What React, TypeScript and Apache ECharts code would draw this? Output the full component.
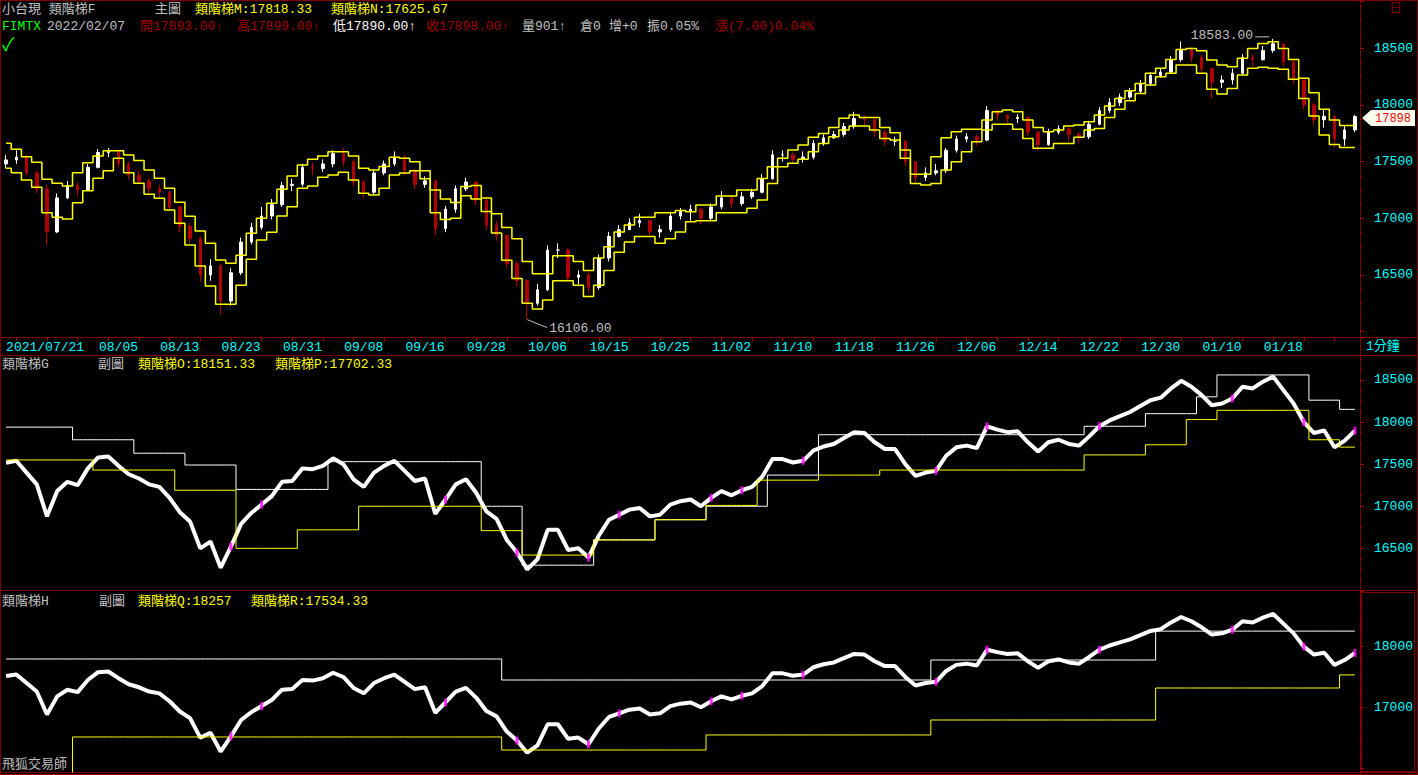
import React, { useEffect, useRef } from 'react';
import * as echarts from 'echarts';

// ---------- data ----------
const dates = [
  '2021/07/21', '07/22', '07/23', '07/26', '07/27', '07/28', '07/29', '07/30',
  '08/02', '08/03', '08/04', '08/05', '08/06', '08/09', '08/10', '08/11', '08/12', '08/13', '08/16', '08/17', '08/18', '08/19', '08/20', '08/23', '08/24', '08/25', '08/26', '08/27', '08/30', '08/31',
  '09/01', '09/02', '09/03', '09/06', '09/07', '09/08', '09/09', '09/10', '09/13', '09/14', '09/15', '09/16', '09/17', '09/22', '09/23', '09/24', '09/27', '09/28', '09/29', '09/30',
  '10/01', '10/04', '10/05', '10/06', '10/07', '10/08', '10/12', '10/13', '10/14', '10/15', '10/18', '10/19', '10/20', '10/21', '10/22', '10/25', '10/26', '10/27', '10/28', '10/29',
  '11/01', '11/02', '11/03', '11/04', '11/05', '11/08', '11/09', '11/10', '11/11', '11/12', '11/15', '11/16', '11/17', '11/18', '11/19', '11/22', '11/23', '11/24', '11/25', '11/26', '11/29', '11/30',
  '12/01', '12/02', '12/03', '12/06', '12/07', '12/08', '12/09', '12/10', '12/13', '12/14', '12/15', '12/16', '12/17', '12/20', '12/21', '12/22', '12/23', '12/24', '12/27', '12/28', '12/29', '12/30',
  '01/03', '01/04', '01/05', '01/06', '01/07', '01/10', '01/11', '01/12', '01/13', '01/14', '01/17', '01/18', '01/19', '01/20', '01/21', '01/24', '01/25', '01/26',
  '02/07',
];

const firstOpen = 17480;
const closes = [
  17515, 17540, 17400, 17260, 16880, 17180, 17290, 17250, 17450, 17580,
  17590, 17480, 17380, 17330, 17260, 17230, 17100, 16930, 16820, 16500,
  16580, 16270, 16520, 16790, 16920, 17020, 17120, 17290, 17300, 17450,
  17440, 17480, 17570, 17500, 17320, 17230, 17400, 17480, 17540, 17420,
  17300, 17330, 16910, 17080, 17260, 17320, 17160, 16940, 16850, 16600,
  16450, 16250, 16370, 16720, 16720, 16480, 16500, 16390, 16650, 16840,
  16900, 16960, 16980, 16880, 16900, 17020, 17060, 17080, 17000, 17100,
  17180, 17130, 17190, 17230, 17350, 17560, 17560, 17520, 17540, 17660,
  17710, 17740, 17810, 17880, 17870, 17760, 17680, 17680, 17500, 17360,
  17400, 17420, 17600, 17700, 17720, 17690, 17950, 17910, 17880, 17890,
  17760, 17650, 17760, 17790, 17740, 17720, 17830, 17950, 18020, 18070,
  18120, 18190, 18260, 18290, 18400, 18490, 18420, 18320, 18200, 18220,
  18280, 18420, 18400, 18480, 18540, 18380, 18220, 18000, 17870, 17900,
  17700, 17780, 17898,
];
const highs = [
  17560, 17600, 17560, 17420, 17300, 17220, 17330, 17320, 17480, 17610,
  17620, 17600, 17500, 17420, 17350, 17290, 17240, 17110, 16960, 16840,
  16640, 16600, 16560, 16830, 16960, 17100, 17170, 17320, 17350, 17480,
  17490, 17520, 17600, 17620, 17520, 17340, 17430, 17510, 17590, 17560,
  17440, 17370, 17340, 17110, 17290, 17360, 17330, 17180, 16980, 16860,
  16620, 16460, 16420, 16760, 16780, 16740, 16540, 16520, 16680, 16880,
  16940, 17000, 17040, 16990, 16940, 17060, 17090, 17120, 17090, 17130,
  17240, 17200, 17230, 17260, 17390, 17600, 17600, 17580, 17590, 17690,
  17740, 17770, 17840, 17940, 17910, 17880, 17780, 17720, 17690, 17500,
  17450, 17480, 17620, 17730, 17750, 17740, 17990, 17960, 17920, 17920,
  17900, 17770, 17790, 17820, 17800, 17760, 17860, 17980, 18060, 18100,
  18150, 18220, 18290, 18320, 18430, 18560, 18510, 18440, 18330, 18260,
  18320, 18450, 18450, 18520, 18583, 18540, 18390, 18230, 18020, 17960,
  17910, 17820, 17910,
];
const lows = [
  17440, 17480, 17380, 17220, 16760, 16870, 17170, 17190, 17240, 17440,
  17540, 17450, 17340, 17300, 17220, 17180, 17060, 16880, 16780, 16440,
  16450, 16150, 16230, 16500, 16770, 16900, 16990, 17100, 17240, 17280,
  17380, 17410, 17450, 17460, 17280, 17180, 17210, 17380, 17460, 17380,
  17260, 17270, 16850, 16880, 17050, 17240, 17120, 16900, 16800, 16560,
  16400, 16106, 16230, 16360, 16650, 16440, 16420, 16340, 16370, 16620,
  16830, 16900, 16920, 16840, 16830, 16880, 16990, 16980, 16950, 16980,
  17080, 17090, 17110, 17170, 17220, 17340, 17500, 17480, 17490, 17520,
  17640, 17700, 17720, 17790, 17820, 17720, 17640, 17640, 17460, 17300,
  17330, 17380, 17400, 17580, 17670, 17640, 17680, 17860, 17840, 17840,
  17730, 17600, 17640, 17740, 17680, 17660, 17700, 17820, 17930, 17990,
  18050, 18100, 18170, 18240, 18280, 18380, 18380, 18280, 18060, 18150,
  18180, 18270, 18340, 18390, 18460, 18340, 18180, 17960, 17820, 17800,
  17620, 17640, 17760,
];

// main-chart ladders (類階梯M, 類階梯N)
const ladderM = [
  17662, 17609, 17544, 17494, 17344, 17309, 17285, 17403, 17491, 17550,
  17597, 17597, 17559, 17509, 17426, 17353, 17265, 17141, 17018, 16888,
  16780, 16632, 16603, 16674, 16868, 17000, 17133, 17256, 17373, 17470,
  17521, 17550, 17588, 17588, 17550, 17441, 17426, 17456, 17538, 17530,
  17500, 17420, 17250, 17170, 17140, 17280, 17290, 17180, 17040, 16920,
  16820, 16620, 16510, 16510, 16670, 16670, 16620, 16540, 16650, 16750,
  16880, 16940, 17010, 17010, 17050, 17050, 17070, 17058, 17117, 17117,
  17196, 17196, 17249, 17249, 17352, 17455, 17529, 17602, 17646, 17714,
  17749, 17802, 17882, 17911, 17890, 17890, 17802, 17755, 17602, 17388,
  17388, 17543, 17711, 17764, 17785, 17785, 17867, 17941, 17955, 17941,
  17867, 17802, 17764, 17779, 17814, 17823, 17852, 17911, 17990, 18058,
  18126, 18190, 18279, 18323, 18402, 18490, 18499, 18479, 18396, 18352,
  18337, 18411, 18499, 18543, 18558, 18499, 18402, 18235, 18108, 17961,
  17867, 17818.33, 17818.33,
];
const ladderN = [
  17441, 17403, 17338, 17273, 17050, 17009, 16994, 17138, 17244, 17353,
  17420, 17530, 17403, 17309, 17212, 17177, 17074, 16956, 16765, 16580,
  16403, 16242, 16242, 16409, 16639, 16809, 16877, 17020, 17103, 17265,
  17285, 17362, 17382, 17406, 17338, 17221, 17206, 17265, 17382, 17400,
  17420, 17350, 17050, 16990, 17000, 17200, 17170, 17060, 16870, 16630,
  16470, 16250, 16200, 16280, 16450, 16450, 16410, 16310, 16410, 16540,
  16700, 16790, 16840, 16840, 16780, 16820, 16880, 16970, 16979, 16979,
  17049, 17049, 17049, 17088, 17161, 17308, 17455, 17485, 17520, 17588,
  17661, 17720, 17779, 17814, 17814, 17779, 17705, 17690, 17529, 17308,
  17293, 17308, 17426, 17499, 17588, 17676, 17779, 17829, 17829, 17785,
  17705, 17617, 17617, 17661, 17661, 17714, 17779, 17793, 17890, 17961,
  18037, 18102, 18176, 18249, 18279, 18352, 18352, 18279, 18138, 18096,
  18146, 18264, 18323, 18332, 18323, 18314, 18226, 18058, 17902, 17735,
  17652, 17625.67, 17625.67,
];

// sub-chart G ladders: [first bar index, level]
const ladderO: [number, number][] = [
  [0, 17940], [7, 17790], [13, 17630], [18, 17490], [23, 17200], [32, 17530], [47, 17000],
  [51, 16300], [58, 16600], [64, 16840], [69, 17000], [75, 17370], [80, 17850], [106, 17950],
  [112, 18100], [117, 18300], [119, 18560], [128, 18260], [131, 18151.33],
];
const ladderP: [number, number][] = [
  [0, 17550], [9, 17430], [17, 17190], [23, 16500], [29, 16720], [35, 17000], [47, 16710],
  [51, 16420], [58, 16600], [64, 16840], [69, 17010], [74, 17310], [80, 17370], [86, 17430],
  [106, 17610], [112, 17730], [116, 18030], [119, 18140], [128, 17790], [131, 17702.33],
];
// sub-chart H ladders
const ladderQ: [number, number][] = [[0, 17797], [49, 17450], [91, 17780], [113, 18257]];
const ladderR: [number, number][] = [
  [0, 15800], [7, 16510], [49, 16295], [69, 16543], [91, 16790], [113, 17318], [131, 17534.33],
];
// bars highlighted in magenta on the sub-charts
const magentaBars = [22, 25, 43, 50, 57, 60, 69, 72, 78, 91, 96, 107, 120, 127, 132];

const lastHigh = { bar: 124, value: 18583 };
const lastLow = { bar: 51, value: 16106 };

// ---------- helpers ----------
const FONT = '"Liberation Mono", "Noto Sans CJK TC", monospace';
const RED = '#800000';
const TICKRED = '#a00000';
const CYAN = '#00ffff';
const GRAY = '#c0c0c0';
const YELLOW = '#ffff00';

function expandSteps(segs: [number, number][], n: number) {
  const out: (number | null)[] = [];
  let k = 0;
  for (let i = 0; i < n; i++) {
    while (k + 1 < segs.length && segs[k + 1][0] <= i) k++;
    out.push(i >= segs[0][0] ? segs[k][1] : null);
  }
  return out;
}

function txt(x: number, y: number, text: string, fill: string, size = 13) {
  return {
    type: 'text', x, y, silent: true,
    style: { text, fill, font: `${size}px ${FONT}`, verticalAlign: 'middle' },
  };
}
function hline(y: number, x1 = 0, x2 = 1418) {
  return { type: 'line', silent: true, shape: { x1, y1: y, x2, y2: y }, style: { stroke: RED, lineWidth: 1 } };
}

export default function App() {
  const ref = useRef<HTMLDivElement>(null);

  useEffect(() => {
    if (!ref.current) return;
    const chart = echarts.init(ref.current, null, { renderer: 'svg' });
    const n = dates.length;
    const opens = closes.map((c, i) => (i === 0 ? firstOpen : closes[i - 1]));
    const candles = closes.map((c, i) => [opens[i], c, lows[i], highs[i]]);
    const magenta = magentaBars.map((i) => [i, closes[i]]);

    const xHidden = {
      type: 'category', data: dates, boundaryGap: true,
      axisLine: { show: false }, axisTick: { show: false }, axisLabel: { show: false }, splitLine: { show: false },
    };
    const yBase = (gridIndex: number, min: number, max: number, splitNumber: number, hideBelow: number) => ({
      type: 'value', gridIndex, position: 'right', min, max, splitNumber,
      splitLine: { show: false },
      axisLine: { show: true, lineStyle: { color: RED } },
      axisTick: { show: true, length: 4, lineStyle: { color: TICKRED } },
      minorTick: { show: true, splitNumber: 4, length: 2, lineStyle: { color: TICKRED } },
      axisLabel: {
        color: CYAN, fontFamily: FONT, fontSize: 13, margin: 14,
        showMinLabel: false, showMaxLabel: false,
        formatter: (v: number) => (v <= hideBelow ? '' : String(v)),
      },
    });
    const stepLine = (data: any[], color: string, xi: number, width = 1) => ({
      type: 'line', xAxisIndex: xi, yAxisIndex: xi, data, step: 'middle', symbol: 'none',
      lineStyle: { color, width }, z: 4, silent: true,
    });

    const option: any = {
      animation: false,
      backgroundColor: '#000000',
      grid: [
        { left: 1, right: 58, top: 1, height: 336 },
        { left: 1, right: 58, top: 355, height: 235 },
        { left: 1, right: 58, top: 591, height: 181 },
      ],
      xAxis: [
        {
          ...xHidden, gridIndex: 0,
          axisLine: { show: false },
          axisTick: {
            show: true, alignWithLabel: true, length: 4, inside: false,
            interval: (i: number) => i % 3 === 1, lineStyle: { color: TICKRED },
          },
          axisLabel: {
            show: true, color: CYAN, fontFamily: FONT, fontSize: 13, margin: 4,
            interval: (i: number) => i === 0 || (i % 6 === 5 && i >= 11 && i < 128),
            showMinLabel: true,
            alignMinLabel: 'left',
          },
        },
        { ...xHidden, gridIndex: 1 },
        { ...xHidden, gridIndex: 2 },
      ],
      yAxis: [
        yBase(0, 15953, 18917, 6, 16000),
        yBase(1, 16005, 18797, 6, 16000),
        yBase(2, 15932, 18919, 3, 16000),
      ],
      series: [
        {
          type: 'candlestick', xAxisIndex: 0, yAxisIndex: 0, data: candles, barWidth: 3,
          itemStyle: { color: '#ffffff', color0: '#b00000', borderColor: '#ffffff', borderColor0: '#b00000', borderWidth: 1 },
          silent: true,
        },
        stepLine(ladderM, YELLOW, 0, 1.5),
        stepLine(ladderN, YELLOW, 0, 1.5),

        stepLine(expandSteps(ladderO, n), '#ffffff', 1),
        stepLine(expandSteps(ladderP, n), YELLOW, 1),
        {
          type: 'line', xAxisIndex: 1, yAxisIndex: 1, data: closes, symbol: 'none',
          lineStyle: { color: '#ffffff', width: 4 }, z: 3, silent: true,
        },
        {
          type: 'scatter', xAxisIndex: 1, yAxisIndex: 1, data: magenta, symbol: 'rect', symbolSize: [3, 8],
          itemStyle: { color: '#ff00ff' }, z: 5, silent: true,
        },

        stepLine(expandSteps(ladderQ, n), '#ffffff', 2),
        stepLine(expandSteps(ladderR, n), YELLOW, 2),
        {
          type: 'line', xAxisIndex: 2, yAxisIndex: 2, data: closes, symbol: 'none',
          lineStyle: { color: '#ffffff', width: 4 }, z: 3, silent: true,
        },
        {
          type: 'scatter', xAxisIndex: 2, yAxisIndex: 2, data: magenta, symbol: 'rect', symbolSize: [3, 8],
          itemStyle: { color: '#ff00ff' }, z: 5, silent: true,
        },
      ],
    };
    chart.setOption(option);

    const last = chart.convertToPixel({ gridIndex: 0 }, [n - 1, closes[n - 1]]) as number[];
    const hi = chart.convertToPixel({ gridIndex: 0 }, [lastHigh.bar, lastHigh.value]) as number[];
    const lo = chart.convertToPixel({ gridIndex: 0 }, [lastLow.bar, lastLow.value]) as number[];
    const ty = Math.round(last[1]);

    const graphic: any[] = [
      { type: 'rect', silent: true, shape: { x: 0.5, y: 0.5, width: 1417, height: 774 }, style: { fill: 'none', stroke: RED, lineWidth: 1 } },
      hline(337.5), hline(355.5), hline(590.5), hline(772.5),
      { type: 'line', silent: true, shape: { x1: 1360.5, y1: 0, x2: 1360.5, y2: 775 }, style: { stroke: RED, lineWidth: 1 } },
      { type: 'rect', silent: true, shape: { x: 1361.5, y: 592.5, width: 53, height: 179 }, style: { fill: 'none', stroke: RED, lineWidth: 1 } },

      txt(2, 9, '小台現 類階梯F', GRAY),
      txt(155, 9, '主圖', GRAY),
      txt(195, 9, '類階梯M:17818.33', YELLOW),
      txt(331, 9, '類階梯N:17625.67', YELLOW),
      txt(1389, 8, '日', RED, 13),

      txt(2, 26, 'FIMTX', '#00ff00'),
      txt(47, 26, '2022/02/07', GRAY),
      txt(140, 26, '開17893.00↑', TICKRED),
      txt(237, 26, '高17899.00↑', TICKRED),
      txt(333, 26, '低17890.00↑', '#ffffff'),
      txt(426, 26, '收17898.00↑', TICKRED),
      txt(522, 26, '量901↑', GRAY),
      txt(580, 26, '倉0', GRAY),
      txt(609, 26, '增+0', GRAY),
      txt(647, 26, '振0.05%', GRAY),
      txt(715, 26, '漲(7.00)0.04%', TICKRED),
      txt(2, 46, '✓', '#00ff00', 18),

      txt(1366, 346, '1分鐘', CYAN),

      txt(2, 364, '類階梯G', GRAY),
      txt(98, 364, '副圖', GRAY),
      txt(138, 364, '類階梯O:18151.33', YELLOW),
      txt(275, 364, '類階梯P:17702.33', YELLOW),

      txt(2, 601, '類階梯H', GRAY),
      txt(99, 601, '副圖', GRAY),
      txt(138, 601, '類階梯Q:18257', YELLOW),
      txt(251, 601, '類階梯R:17534.33', YELLOW),

      txt(2, 764, '飛狐交易師', GRAY),

      // extreme annotations
      { type: 'line', silent: true, shape: { x1: hi[0] - 4, y1: hi[1] - 2, x2: hi[0] - 18, y2: hi[1] - 2 }, style: { stroke: GRAY, lineWidth: 1 } },
      {
        type: 'text', silent: true, x: hi[0] - 20, y: hi[1] - 3,
        style: { text: lastHigh.value.toFixed(2), fill: GRAY, font: `13px ${FONT}`, align: 'right', verticalAlign: 'middle' },
      },
      { type: 'line', silent: true, shape: { x1: lo[0], y1: lo[1], x2: lo[0] + 20, y2: lo[1] + 8 }, style: { stroke: GRAY, lineWidth: 1 } },
      {
        type: 'text', silent: true, x: lo[0] + 22, y: lo[1] + 9,
        style: { text: lastLow.value.toFixed(2), fill: GRAY, font: `13px ${FONT}`, verticalAlign: 'middle' },
      },

      // last price tag
      {
        type: 'polygon', silent: true,
        shape: { points: [[1362, ty + 1], [1371, ty - 7], [1415, ty - 7], [1415, ty + 9], [1371, ty + 9]] },
        style: { fill: '#fffff0', stroke: 'none' },
      },
      {
        type: 'text', silent: true, x: 1375, y: ty + 2,
        style: { text: String(Math.round(closes[n - 1])), fill: '#ff0000', font: `12px ${FONT}`, verticalAlign: 'middle' },
      },
    ];
    chart.setOption({ graphic });

    return () => chart.dispose();
  }, []);

  return (
    <div
      ref={ref}
      style={{ position: 'fixed', left: 0, top: 0, width: 1418, height: 775, background: '#000' }}
    />
  );
}
